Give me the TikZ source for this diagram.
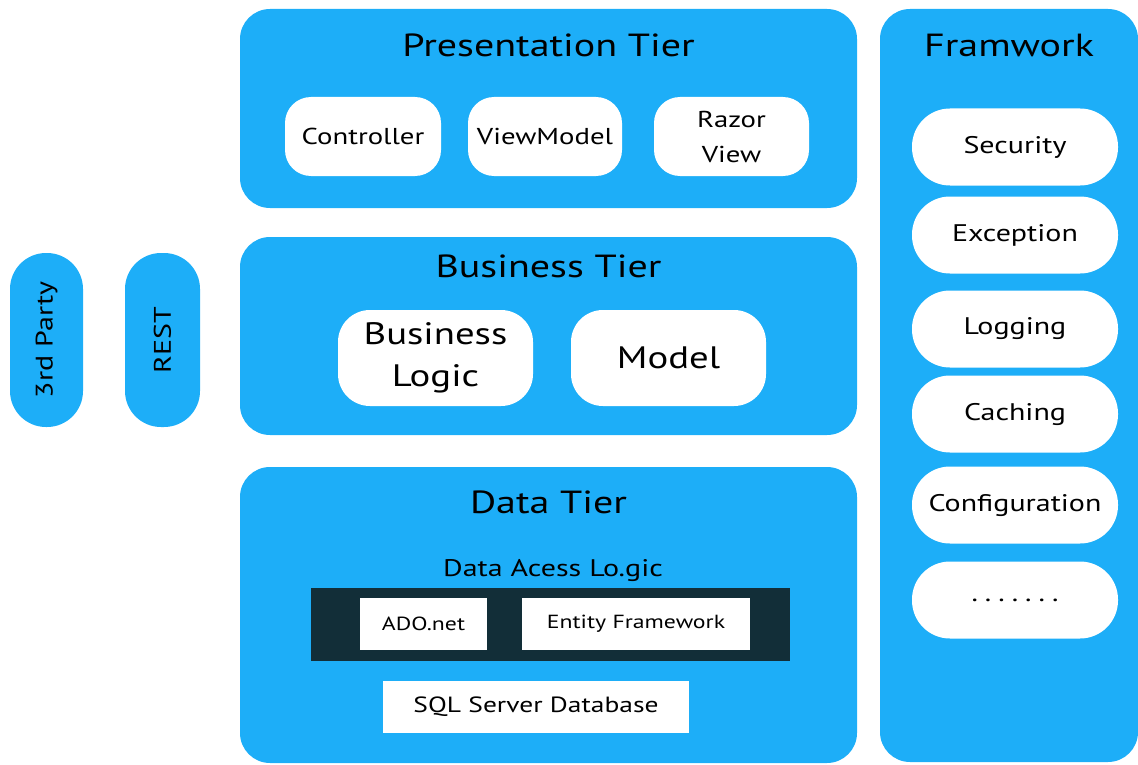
\documentclass[tikz,border=0pt]{standalone}
\usepackage{fontspec}
\setmainfont{PT Sans}[FakeStretch=1.25]
\definecolor{tierblue}{RGB}{29,174,248}
\definecolor{darkbar}{RGB}{18,46,56}
\tikzset{
  tier/.style={fill=tierblue, rounded corners=30pt, inner sep=0pt},
  tiertitle/.style={font=\fontsize{32}{36}\selectfont, text=black, inner sep=0pt},
  whitepill/.style={fill=white, align=center, inner sep=0pt, text=black},
  sidepill/.style={fill=tierblue, rounded corners=36pt, inner sep=0pt,
    font=\fontsize{24}{28}\selectfont},
  flatbox/.style={fill=white, inner sep=0pt, font=\fontsize{19}{22}\selectfont}
}
\newcommand{\dotrow}{.\hspace{7pt}.\hspace{7pt}.\hspace{7pt}.\hspace{7pt}.\hspace{7pt}.\hspace{7pt}.}
\begin{document}
\begin{tikzpicture}[x=1pt, y=-1pt]
\useasboundingbox (0,0) rectangle (1138,765);

% side pills
\node[sidepill, minimum width=73pt, minimum height=174pt] (third) at (46.5,340) {};
\node[rotate=90, font=\fontsize{24}{28}\selectfont] (thirdt) at (third.center) {3rd Party};
\node[sidepill, minimum width=75pt, minimum height=174pt] (rest) at (162.5,340) {};
\node[rotate=90, font=\fontsize{24}{28}\selectfont] (restt) at (rest.center) {REST};

% presentation tier
\node[tier, minimum width=617pt, minimum height=199pt] (pres) at (548.5,108.5) {};
\node[tiertitle] (prest) at (548.5,45) {Presentation Tier};
\node[whitepill, rounded corners=26pt, minimum width=156pt, minimum height=79pt,
  font=\fontsize{23}{35}\selectfont] (ctrl) at (363,136.5) {Controller};
\node[whitepill, rounded corners=26pt, minimum width=154pt, minimum height=79pt,
  font=\fontsize{23}{35}\selectfont] (vm) at (545,136.5) {ViewModel};
\node[whitepill, rounded corners=26pt, minimum width=155pt, minimum height=79pt,
  font=\fontsize{23}{35}\selectfont] (razor) at (731.5,136.5) {Razor\\View};

% business tier
\node[tier, minimum width=617pt, minimum height=198pt] (bus) at (548.5,336) {};
\node[tiertitle] (bust) at (548.5,266) {Business Tier};
\node[whitepill, rounded corners=32pt, minimum width=195pt, minimum height=96pt,
  font=\fontsize{31}{42}\selectfont] (blogic) at (435.5,358) {Business\\Logic};
\node[whitepill, rounded corners=32pt, minimum width=195pt, minimum height=96pt,
  font=\fontsize{31}{42}\selectfont] (model) at (668.5,358) {Model};

% data tier
\node[tier, minimum width=617pt, minimum height=296pt] (data) at (548.5,615) {};
\node[tiertitle] (datat) at (548.5,502) {Data Tier};
\node[inner sep=0pt, font=\fontsize{24}{28}\selectfont] (dal) at (553,571) {Data Acess Lo.gic};
\node[fill=darkbar, inner sep=0pt, minimum width=479pt, minimum height=73pt] (bar) at (550.5,624.5) {};
\node[flatbox, minimum width=127pt, minimum height=52pt] (ado) at (423.5,624) {ADO.net};
\node[flatbox, minimum width=228pt, minimum height=52pt] (ef) at (636,624) {Entity Framework};
\node[flatbox, minimum width=306pt, minimum height=52pt,
  font=\fontsize{22}{25}\selectfont] (sql) at (536,707) {SQL Server Database};

% framework column
\node[tier, minimum width=258pt, minimum height=753pt] (fw) at (1009,385.5) {};
\node[tiertitle] (fwt) at (1009,45) {Framwork};
\foreach \nm/\txt/\yy in {sec/Security/147, exc/Exception/235, log/Logging/329,
  cach/Caching/414, conf/Configuration/505, more/\dotrow/600}{
  \node[whitepill, rounded corners=38pt, minimum width=206pt, minimum height=77pt,
    font=\fontsize{24}{28}\selectfont] (\nm) at (1015,\yy) {\txt};
}
\end{tikzpicture}
\end{document}
